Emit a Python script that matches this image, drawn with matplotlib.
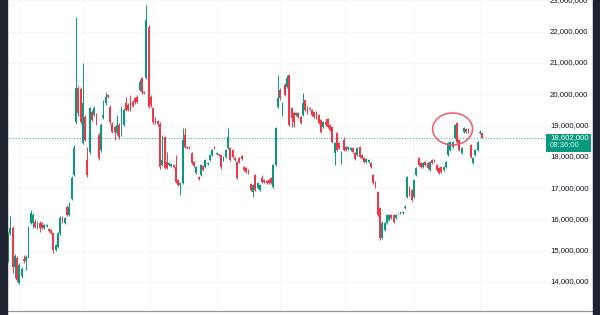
"""
Daily candlestick chart with last-price tag and a highlighted zone
"""
import matplotlib
matplotlib.use("Agg")
import matplotlib.pyplot as plt
import numpy as np
from matplotlib.patches import Ellipse, Rectangle
from matplotlib.transforms import offset_copy

# OHLC in millions
opens = [
    14.77, 15.57, 15.73, 14.48, 14.77, 13.97, 14.19, 14.73, 14.67, 14.80,
    15.89, 15.89, 15.92, 15.73, 15.89, 15.89, 15.73, 15.79, 15.69, 15.66,
    15.57, 15.02, 15.12, 15.57, 16.04, 15.89, 16.40, 16.14, 16.65, 17.42,
    19.11, 20.20, 20.17, 18.44, 19.27, 17.90, 18.15, 19.43, 19.34, 19.34,
    18.70, 18.22, 19.24, 19.72, 19.97, 19.59, 19.05, 18.95, 18.76, 19.02,
    18.70, 19.02, 19.72, 19.65, 19.65, 19.75, 19.88, 19.91, 20.13, 20.52,
    20.07, 20.52, 22.15, 19.91, 19.56, 19.24, 19.14, 19.05, 17.74, 18.63,
    17.83, 17.74, 17.71, 17.74, 17.67, 17.26, 17.10, 17.16, 18.70, 18.31,
    18.31, 18.12, 17.83,
    17.48, 17.35, 17.42, 17.71, 17.67, 17.77, 17.90, 18.06, 18.31, 18.09,
    18.06, 18.06, 17.90, 17.99, 18.28, 18.28, 18.22, 17.96, 17.83, 17.96,
    18.03, 17.67, 17.64, 17.58, 17.13, 16.88, 17.42, 17.00, 16.94, 17.32,
    17.26, 17.23, 17.26, 17.32, 17.03, 17.74, 19.59, 20.13, 19.40, 20.29,
    20.23, 20.61, 19.56, 19.40, 19.34, 19.40,
    19.27, 19.34, 19.82, 19.59, 19.56, 19.50, 19.43, 19.43, 19.34, 19.18,
    18.95, 19.11, 19.21, 19.02, 18.95, 18.12, 18.76, 18.44, 17.80, 18.54,
    18.31, 18.25, 18.22, 18.28, 18.12, 18.06, 18.31, 18.06, 17.96, 17.83,
    17.83, 17.80, 17.42, 17.19, 16.88, 16.36, 15.41, 15.66, 15.89, 15.98,
    16.14, 16.14, 16.04, 16.19, 16.20, 16.20, 16.36, 16.72, 17.03, 16.94,
    16.72, 17.42, 17.96, 17.80, 17.67, 17.83, 17.80, 17.58, 17.90, 17.90,
    17.74, 17.64, 17.67, 17.58, 17.67, 18.06, 18.22, 18.31, 18.60, 19.08,
    18.54, 18.12, 18.79, 18.89, 18.89, 18.38, 17.80, 18.06, 18.22, 18.76, 18.76,
]
highs = [
    15.60, 16.11, 15.79, 14.90, 14.83, 14.60, 14.48, 14.86, 14.86, 15.79,
    16.30, 16.20, 16.00, 15.95, 15.95, 15.92, 15.86, 15.85, 15.72, 15.69,
    15.60, 15.22, 15.60, 16.10, 16.10, 16.08, 16.46, 16.56, 17.38, 18.38,
    22.47, 20.26, 20.23, 21.00, 19.35, 18.31, 19.60, 19.50, 19.62, 19.40,
    18.76, 19.08, 19.82, 20.07, 20.00, 19.65, 19.10, 19.00, 19.34, 19.08,
    19.62, 19.56, 19.91, 19.72, 19.97, 19.80, 19.92, 19.97, 20.49, 20.56,
    20.10, 22.85, 22.20, 19.97, 19.60, 19.28, 19.18, 19.10, 18.70, 18.68,
    18.15, 17.84, 17.80, 17.77, 18.06, 17.30, 17.20, 18.92, 18.92, 18.34,
    18.33, 18.16, 17.86,
    17.71, 17.39, 17.78, 17.74, 17.94, 17.83, 18.09, 18.25, 18.34, 18.14,
    18.08, 18.09, 18.03, 18.25, 18.92, 18.32, 18.25, 17.99, 17.86, 17.99,
    18.06, 17.70, 17.67, 17.61, 17.16, 17.13, 17.45, 17.19, 17.13, 17.42,
    17.29, 17.26, 17.29, 17.35, 17.77, 18.95, 20.61, 20.20, 19.75, 20.35,
    20.61, 20.64, 19.59, 19.45, 19.44, 19.44,
    19.30, 20.04, 19.85, 19.62, 19.59, 19.53, 19.46, 19.46, 19.37, 19.21,
    19.15, 19.24, 19.24, 19.05, 18.98, 18.47, 18.79, 18.47, 18.19, 18.63,
    18.34, 18.34, 18.31, 18.31, 18.15, 18.31, 18.34, 18.09, 17.99, 17.96,
    17.93, 17.83, 17.45, 17.22, 16.91, 16.40, 15.95, 15.92, 16.18, 16.17,
    16.17, 16.17, 16.17, 16.22, 16.23, 16.23, 16.46, 17.39, 17.06, 16.97,
    17.29, 17.67, 17.99, 17.83, 17.83, 17.86, 17.83, 17.86, 17.93, 17.93,
    17.77, 17.67, 17.70, 17.70, 17.86, 18.47, 18.50, 18.50, 19.05, 19.11,
    18.57, 18.31, 18.95, 18.92, 18.92, 18.41, 17.99, 18.25, 18.50, 18.86, 18.79,
]
lows = [
    14.64, 15.50, 14.29, 14.13, 14.00, 13.93, 14.13, 14.60, 14.38, 14.77,
    15.85, 15.73, 15.72, 15.69, 15.60, 15.70, 15.70, 15.76, 15.60, 15.54,
    14.93, 14.98, 15.08, 15.50, 15.88, 15.85, 16.10, 16.10, 16.62, 17.39,
    19.05, 19.30, 19.05, 18.40, 18.50, 17.35, 18.10, 19.14, 19.30, 19.02,
    17.90, 18.15, 19.20, 19.65, 19.88, 19.05, 18.75, 18.54, 18.70, 18.57,
    18.66, 18.98, 19.45, 19.45, 19.45, 19.58, 19.70, 19.72, 20.10, 20.02,
    20.00, 20.48, 19.55, 19.60, 19.05, 19.04, 19.00, 17.62, 17.70, 17.60,
    17.60, 17.70, 17.68, 17.64, 17.15, 17.06, 16.78, 17.12, 18.28, 18.25,
    18.24, 17.76, 17.68,
    17.45, 17.25, 17.38, 17.55, 17.64, 17.74, 17.87, 18.03, 18.26, 18.07,
    18.04, 17.62, 17.87, 17.96, 18.25, 17.86, 17.96, 17.87, 17.28, 17.80,
    17.90, 17.55, 17.48, 17.45, 16.90, 16.72, 16.90, 16.97, 16.91, 17.16,
    17.16, 17.13, 17.13, 17.13, 17.00, 17.71, 19.55, 19.80, 19.30, 19.94,
    20.20, 18.98, 18.95, 18.95, 19.30, 19.24,
    19.04, 19.30, 19.45, 19.36, 19.50, 19.30, 19.24, 19.20, 19.04, 18.76,
    18.92, 18.98, 18.92, 18.82, 18.44, 17.74, 18.18, 18.25, 17.77, 18.18,
    18.19, 18.22, 18.19, 18.12, 17.90, 18.03, 17.96, 17.93, 17.80, 17.80,
    17.80, 17.64, 17.12, 17.00, 16.10, 15.34, 15.38, 15.63, 15.85, 15.95,
    16.01, 15.88, 16.01, 16.17, 16.18, 16.18, 16.33, 16.68, 16.75, 16.59,
    16.68, 17.39, 17.71, 17.64, 17.64, 17.71, 17.61, 17.55, 17.77, 17.84,
    17.55, 17.45, 17.48, 17.55, 17.64, 18.03, 18.19, 18.28, 18.57, 18.44,
    18.19, 18.09, 18.76, 18.76, 18.76, 17.96, 17.77, 18.03, 18.19, 18.73, 18.60,
]
closes = [
    15.44, 15.73, 14.48, 14.83, 14.06, 14.54, 14.42, 14.67, 14.80, 15.73,
    16.20, 16.14, 15.76, 15.89, 15.73, 15.73, 15.82, 15.82, 15.63, 15.57,
    15.02, 15.18, 15.57, 16.04, 15.92, 16.04, 16.14, 16.40, 17.32, 18.28,
    20.20, 19.40, 19.11, 19.72, 18.54, 17.42, 19.56, 19.18, 19.56, 19.08,
    17.96, 19.02, 19.34, 19.91, 19.91, 19.11, 18.79, 18.79, 19.02, 18.63,
    18.86, 19.50, 19.50, 19.50, 19.50, 19.62, 19.75, 19.75, 20.39, 20.07,
    20.04, 22.37, 19.59, 19.65, 19.11, 19.08, 19.05, 17.67, 17.90, 17.64,
    17.64, 17.80, 17.77, 17.67, 17.19, 17.10, 17.16, 18.54, 18.31, 18.28,
    18.27, 17.80, 17.71,
    17.67, 17.29, 17.74, 17.58, 17.90, 17.80, 18.06, 18.22, 18.28, 18.12,
    18.05, 17.67, 17.99, 18.22, 18.63, 17.90, 17.99, 17.90, 17.32, 17.83,
    17.93, 17.58, 17.51, 17.48, 16.94, 17.10, 16.94, 17.16, 17.10, 17.19,
    17.19, 17.16, 17.16, 17.16, 17.74, 18.92, 19.88, 19.88, 19.72, 19.97,
    20.52, 19.02, 19.24, 19.11, 19.40, 19.27,
    19.08, 19.72, 19.50, 19.40, 19.53, 19.34, 19.27, 19.24, 19.08, 18.79,
    19.11, 19.02, 18.95, 18.86, 18.47, 18.44, 18.22, 18.28, 18.15, 18.22,
    18.22, 18.31, 18.28, 18.15, 17.93, 18.28, 17.99, 17.96, 17.83, 17.93,
    17.90, 17.67, 17.16, 17.03, 16.14, 15.41, 15.89, 15.89, 16.14, 16.14,
    16.04, 15.92, 16.14, 16.20, 16.21, 16.21, 16.40, 17.35, 16.78, 16.62,
    17.26, 17.64, 17.74, 17.67, 17.80, 17.74, 17.64, 17.83, 17.80, 17.87,
    17.58, 17.48, 17.51, 17.67, 17.83, 18.44, 18.47, 18.47, 19.02, 18.47,
    18.22, 18.28, 18.92, 18.79, 18.79, 17.99, 17.96, 18.22, 18.47, 18.79, 18.602,
]
price_ticks = [14, 15, 16, 17, 18, 19, 20, 21, 22, 23]   # millions
month_starts = [5, 33, 62, 92, 120, 149, 179, 208]       # candle index of each month
countdown = "08:36:00"

UP = '#089981'
DOWN = '#f23645'
TEXT = '#131722'
FONT = 'Liberation Sans'
GRID = '#f5f6f8'

o = np.array(opens) * 1e6
h = np.array(highs) * 1e6
l = np.array(lows) * 1e6
c = np.array(closes) * 1e6
idx = np.arange(len(o))
assert len(o) == len(h) == len(l) == len(c)

fig = plt.figure(figsize=(6, 3.15), dpi=100)
fig.patch.set_facecolor('white')
ax = fig.add_axes([7 / 600, 4 / 315, 586 / 600, 311 / 315])

# grid
for t in price_ticks:
    ax.axhline(t * 1e6, color=GRID, lw=0.6, zorder=0)
for m in month_starts:
    ax.axvline(m, color=GRID, lw=0.6, zorder=0)

# candles
colors = np.where(c >= o, UP, DOWN)
ax.vlines(idx, l, h, colors=colors, lw=0.7, zorder=2)
body = np.maximum(np.abs(c - o), 0.03e6)
ax.bar(idx, body, bottom=np.minimum(o, c), width=0.8, color=colors, lw=0, zorder=3)

ax.set_xlim(-0.44, 257.9)
ax.set_ylim(13.074e6, 23.01e6)
for s in ax.spines.values():
    s.set_visible(False)
ax.set_xticks([])
ax.set_yticks([])

# price scale labels (inside the plot, right side)
ytr = ax.get_yaxis_transform()
label_x = (550 - 7) / 586
for t in price_ticks:
    ax.text(label_x, t * 1e6, f"{t * 1e6:,.0f}", transform=ytr, ha='left', va='center',
            fontsize=5.6, family=FONT, color=TEXT, clip_on=False, zorder=4)

# last price line and tag
last = c[-1]
box_left = (546 - 7) / 586
ax.axhline(last, xmax=box_left, color=UP, ls=(0, (1, 1.5)), lw=0.8, alpha=0.7, zorder=1)
per_px = (23.01e6 - 13.074e6) / 311
ax.add_patch(Rectangle((box_left, last - 14.2 * per_px), 45 / 586, 18 * per_px,
                       transform=ytr, color=UP, lw=0, zorder=5, clip_on=False))
ax.text(label_x, last, f"{last:,.0f}", transform=ytr, ha='left', va='center',
        fontsize=5.6, family=FONT, color='white', zorder=6)
ax.text(label_x, last, countdown,
        transform=offset_copy(ytr, fig=fig, y=-7.8, units='dots'),
        ha='left', va='center', fontsize=5.6, family=FONT, color='#d6f0eb', zorder=6)

# highlight ring around the recent spike
ax.add_patch(Ellipse((196, 18.89e6), width=17.6, height=1.02e6, fill=False,
                     ec='#ef5a66', lw=1.1, zorder=6))

# frame: dark side strips and bottom rule
fig.patches.append(Rectangle((0, 0), 7 / 600, 1, transform=fig.transFigure,
                             color='#1e222d', zorder=10))
fig.patches.append(Rectangle((593 / 600, 0), 7 / 600, 1, transform=fig.transFigure,
                             color='#1e222d', zorder=10))
fig.add_artist(plt.Line2D([7 / 600, 593 / 600], [3.6 / 315, 3.6 / 315],
                          transform=fig.transFigure, color='#9598a1', lw=0.9))

fig.savefig('out.png', dpi=100)
